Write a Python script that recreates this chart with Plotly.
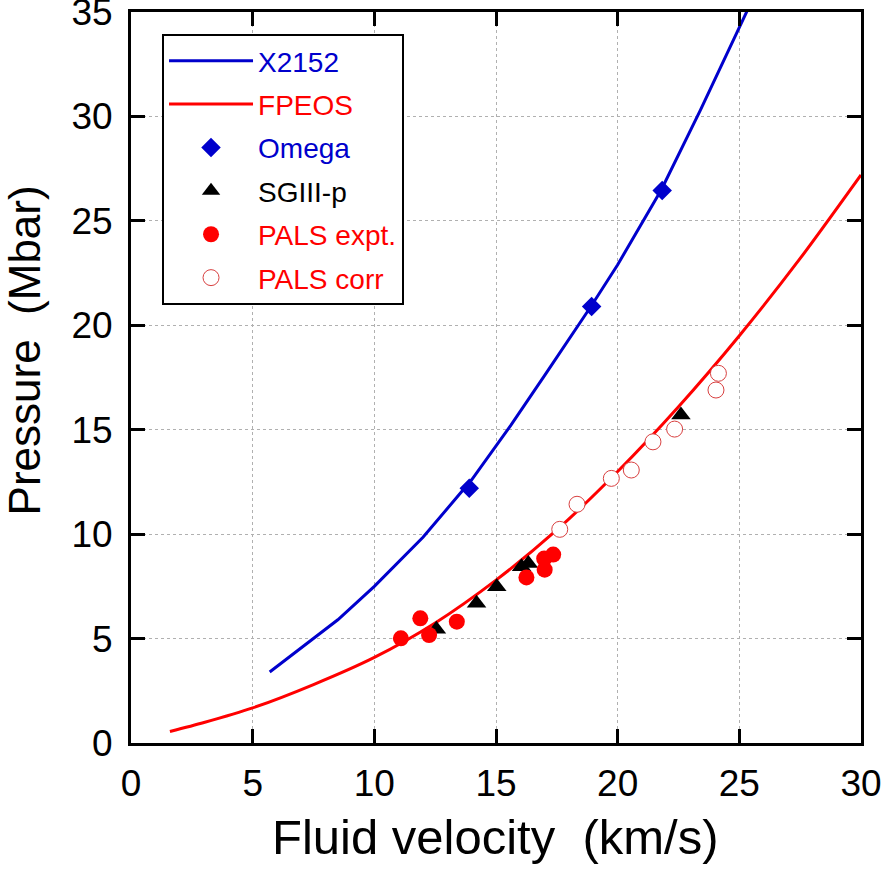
import plotly.graph_objects as go

# X2152 model curve
x2152_v = [5.7, 8.5, 10.0, 12.0, 14.0, 15.6, 17.0, 18.9, 20.0, 21.8, 23.4, 25.5]
x2152_p = [3.4, 5.9, 7.5, 9.85, 12.6, 15.2, 17.6, 20.9, 22.9, 26.5, 30.3, 35.5]

# FPEOS model curve
fpeos_v = [1.6, 3.0, 5.0, 7.5, 10.0, 12.5, 15.0, 17.5, 20.0, 22.5, 25.0, 27.5, 30.0]
fpeos_p = [0.55, 0.98, 1.68, 2.8, 4.1, 5.75, 7.8, 10.2, 13.0, 16.1, 19.5, 23.2, 27.2]

# Omega data
omega_v = [13.9, 18.93, 21.83]
omega_p = [12.2, 20.9, 26.45]

# SGIII-p data
sg_v = [12.55, 14.2, 15.03, 16.05, 16.33, 22.6]
sg_p = [5.45, 6.69, 7.48, 8.44, 8.6, 15.7]

# PALS experiment
pals_v = [11.09, 11.89, 12.25, 13.39, 16.25, 17.0, 16.98, 17.35]
pals_p = [5.01, 5.97, 5.17, 5.81, 7.93, 8.3, 8.83, 9.02]

# PALS corrected
palsc_v = [17.62, 18.33, 19.74, 20.56, 21.45, 22.34, 24.04, 24.14]
palsc_p = [10.23, 11.43, 12.67, 13.07, 14.42, 15.03, 16.9, 17.7]

BLUE = "#0000cc"
RED = "#ff0000"
FONT = "Arial, Liberation Sans, Helvetica, sans-serif"

def lbl(text, color):
    return f"<span style='color:{color}'>{text}</span>"

fig = go.Figure()
fig.add_trace(go.Scatter(x=x2152_v, y=x2152_p, mode="lines", name=lbl("X2152", BLUE),
                         line=dict(color=BLUE, width=3), legendgroup="a"))
fig.add_trace(go.Scatter(x=fpeos_v, y=fpeos_p, mode="lines", name=lbl("FPEOS", RED),
                         line=dict(color=RED, width=3, shape="spline", smoothing=0.8),
                         legendgroup="b"))
fig.add_trace(go.Scatter(x=omega_v, y=omega_p, mode="markers", name=lbl("Omega", BLUE),
                         marker=dict(symbol="diamond", size=15, color=BLUE), legendgroup="c"))
fig.add_trace(go.Scatter(x=sg_v, y=sg_p, mode="markers", name=lbl("SGIII-p", "#000000"),
                         marker=dict(symbol="triangle-up", size=17, color="#000000"), legendgroup="d"))
fig.add_trace(go.Scatter(x=pals_v, y=pals_p, mode="markers", name=lbl("PALS expt.", RED),
                         marker=dict(symbol="circle", size=16, color=RED), legendgroup="e"))
fig.add_trace(go.Scatter(x=palsc_v, y=palsc_p, mode="markers", name=lbl("PALS corr", RED),
                         marker=dict(symbol="circle", size=16, color="white",
                                     line=dict(color="#d84040", width=1)), legendgroup="f"))

axis_common = dict(
    showline=True, linewidth=3, linecolor="black", mirror="ticks",
    ticks="inside", ticklen=14, tickwidth=3, tickcolor="black",
    showgrid=True, gridcolor="#b0b0b0", gridwidth=1, griddash="dot",
    zeroline=False, tickfont=dict(family=FONT, size=37, color="black"),
    automargin=False, ticklabeloverflow="allow",
)

fig.update_xaxes(range=[0, 30], dtick=5, tick0=0, ticklabelstandoff=6, **axis_common)
fig.update_yaxes(range=[0, 35], dtick=5, tick0=0, ticklabelstandoff=8, **axis_common)

fig.update_layout(
    width=884, height=872,
    margin=dict(l=131, r=23, t=12, b=129),
    plot_bgcolor="white", paper_bgcolor="white",
    font=dict(family=FONT, color="black"),
    showlegend=True,
    legend=dict(
        x=0.0425, y=0.97, xanchor="left", yanchor="top",
        bordercolor="black", borderwidth=2, bgcolor="white",
        font=dict(family=FONT, size=28),
        itemwidth=84, tracegroupgap=4, itemsizing="trace",
    ),
    annotations=[
        dict(text="Fluid velocity  (km/s)", xref="paper", yref="paper",
             x=0.499, y=-0.128, xanchor="center", yanchor="middle",
             showarrow=False, font=dict(family=FONT, size=49, color="black")),
        dict(text="Pressure  (Mbar)", xref="paper", yref="paper",
             x=-0.146, y=0.5376, xanchor="center", yanchor="middle", textangle=-90,
             showarrow=False, font=dict(family=FONT, size=44, color="black")),
    ],
)

fig.write_html("out.html")
